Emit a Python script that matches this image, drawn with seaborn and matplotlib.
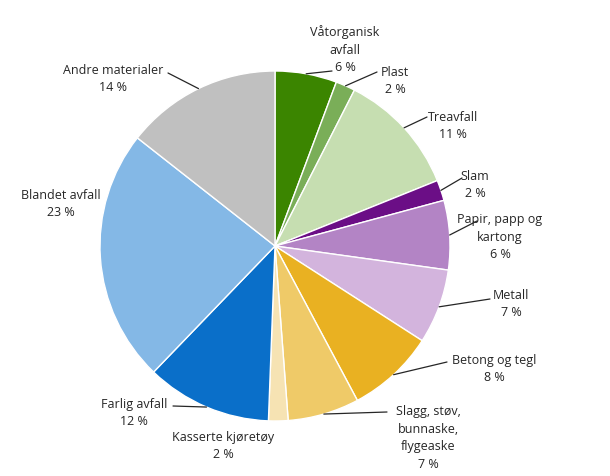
import matplotlib
matplotlib.use("Agg")
import matplotlib.pyplot as plt
import numpy as np
import seaborn as sns

# %% DATA ────────────────────────────────────────────────────────────────
categories = ["Våtorganisk\navfall", "Plast", "Treavfall", "Slam",
              "Papir, papp og\nkartong", "Metall", "Betong og tegl",
              "Slagg, støv,\nbunnaske,\nflygeaske", "Kasserte kjøretøy",
              "Farlig avfall", "Blandet avfall", "Andre materialer"]
shares = [5.7, 1.8, 11.4, 1.9, 6.4, 6.9, 8.1, 6.6, 1.8, 11.6, 23.4, 14.4]
colors = ["#3b8500", "#7aae58", "#c6deb1", "#6b0e86", "#b384c5", "#d3b4dd",
          "#e9b122", "#efca68", "#f6e3b3", "#0a6fc9", "#84b8e6", "#c0c0c0"]

# %% LAYOUT (pixels in a 610x477 canvas; pie centre 275,247, radius 175) ──
CX, CY, R = 275, 247, 175
text_pos = [(345, 50), (395, 81), (453, 126), (475, 185), (500, 237),
            (511, 304), (494, 369), (428, 438), (223, 446), (134, 413),
            (61, 204), (113, 79)]
line_start = [(332, 72), (377, 73), (427, 118), (462, 179), (477, 222),
              (490, 300), (447, 363), (387, 413), None, (173, 407),
              None, (168, 74)]


def px(p):
    return ((p[0] - CX) / R, (CY - p[1]) / R)


# %% PLOT ────────────────────────────────────────────────────────────────
sns.set_theme(style="white")
plt.rcParams["font.family"] = ["Open Sans", "DejaVu Sans"]

fig = plt.figure(figsize=(6.10, 4.77), dpi=100)
ax = fig.add_axes([0, 0, 1, 1])

wedges, _ = ax.pie(shares, colors=colors, startangle=90, counterclock=False,
                   radius=1, wedgeprops=dict(edgecolor="white", linewidth=1))

for w, name, v, tp, ls in zip(wedges, categories, shares, text_pos, line_start):
    mid = np.deg2rad((w.theta1 + w.theta2) / 2)
    arc = (np.cos(mid), np.sin(mid))
    tx, ty = px(tp)
    ax.text(tx, ty, f"{name}\n{round(v)} %", ha="center", va="center",
            fontsize=9, color="#262626", linespacing=1.45)
    if ls is not None:
        lx, ly = px(ls)
        ax.plot([lx, arc[0]], [ly, arc[1]], color="#262626", lw=0.9)

ax.set_xlim(-CX / R, (610 - CX) / R)
ax.set_ylim((CY - 477) / R, CY / R)
ax.set_aspect("auto")
ax.axis("off")

fig.savefig("out.png", dpi=100, facecolor="white")
plt.close(fig)
